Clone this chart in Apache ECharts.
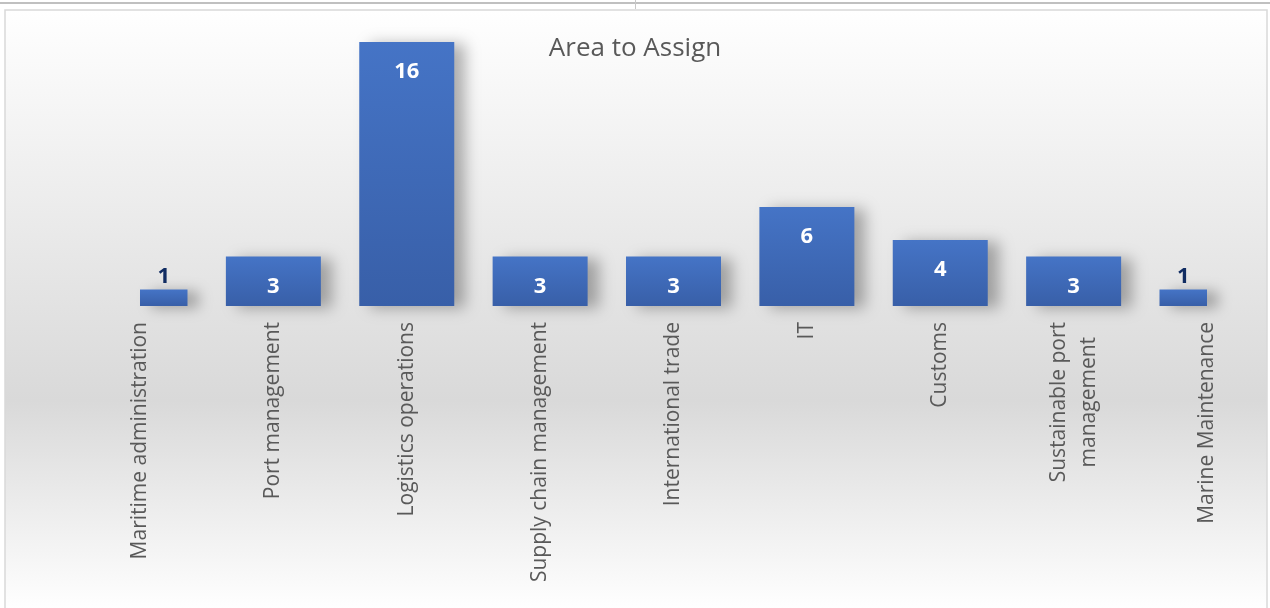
<!DOCTYPE html>
<html>
<head>
<meta charset="utf-8">
<script src="https://cdn.jsdelivr.net/npm/echarts@6/dist/echarts.min.js"></script>
<style>
html,body{margin:0;padding:0;background:#fff;}
#main{width:1270px;height:608px;}
</style>
</head>
<body>
<div id="main"></div>
<script>
const titleText = 'Area to Assign';
const categories = ['Maritime administration','Port management','Logistics operations','Supply chain management','International trade','IT','Customs','Sustainable port\nmanagement','Marine Maintenance'];
const values = [1,3,16,3,3,6,4,3,1];

const FONT = "'Open Sans', 'Noto Sans', sans-serif";
const BAR_W = 95;
const chart = echarts.init(document.getElementById('main'));

const seriesData = values.map((v, i) => [i, v]);

function renderBar(params, api) {
  const idx = api.value(0);
  const val = api.value(1);
  const top = api.coord([idx, val]);
  const base = api.coord([idx, 0]);
  const cs = params.coordSys;
  const rect = echarts.graphic.clipRectByRect(
    { x: top[0] - BAR_W / 2, y: top[1], width: BAR_W, height: base[1] - top[1] },
    { x: cs.x, y: cs.y, width: cs.width, height: cs.height }
  );
  if (!rect) return;
  const narrow = rect.width < BAR_W * 0.75;
  return {
    type: 'rect',
    shape: rect,
    style: {
      fill: new echarts.graphic.LinearGradient(0, 0, 0, 1, [
        { offset: 0, color: '#4574c6' },
        { offset: 1, color: '#385fa8' }
      ]),
      shadowColor: 'rgba(0,0,0,0.3)',
      shadowBlur: 14,
      shadowOffsetX: 11,
      shadowOffsetY: 2
    },
    textContent: {
      style: {
        text: String(val),
        fontFamily: FONT,
        fontSize: 22,
        fontWeight: 'bold',
        fill: narrow ? '#102c62' : '#ffffff'
      }
    },
    textConfig: narrow ? { position: 'top', distance: 2 } : { position: 'insideTop', distance: 19 }
  };
}

chart.setOption({
  animation: false,
  graphic: [
    { type: 'rect', z: -10, silent: true, shape: { x: 0, y: 2, width: 1270, height: 2 }, style: { fill: '#c0c0c0' } },
    { type: 'rect', z: -10, silent: true, shape: { x: 635, y: 0, width: 1, height: 9 }, style: { fill: '#c8c8c8' } },
    { type: 'rect', z: -9, silent: true,
      shape: { x: 5, y: 10, width: 1262, height: 600 },
      style: {
        fill: new echarts.graphic.LinearGradient(0, 0, 0, 1, [
          { offset: 0, color: '#ffffff' },
          { offset: 0.65, color: '#d9d9d9' },
          { offset: 1, color: '#ffffff' }
        ]),
        stroke: '#d9d9d9', lineWidth: 1.5
      }
    }
  ],
  title: {
    text: titleText,
    left: 'center',
    top: 31,
    textStyle: { fontFamily: FONT, fontSize: 26, fontWeight: 'normal', color: '#595959' }
  },
  grid: { left: 140, right: 63, top: 42, bottom: 302, containLabel: false },
  xAxis: {
    type: 'category',
    data: categories,
    boundaryGap: false,
    axisLine: { show: false },
    axisTick: { show: false },
    splitLine: { show: false },
    axisLabel: {
      rotate: 90,
      margin: 16,
      interval: 0,
      fontFamily: FONT,
      fontSize: 21,
      color: '#595959',
      formatter: (s) => s.split('\n').map(l => '{c|' + l + '}').join('\n'),
      rich: { c: { align: 'center', fontFamily: FONT, fontSize: 21, color: '#595959', lineHeight: 30 } }
    }
  },
  yAxis: {
    type: 'value', min: 0, max: 16, show: false,
    splitLine: { show: false }
  },
  series: [{
    type: 'custom',
    renderItem: renderBar,
    data: seriesData,
    encode: { x: 0, y: 1 }
  }]
});
</script>
</body>
</html>
